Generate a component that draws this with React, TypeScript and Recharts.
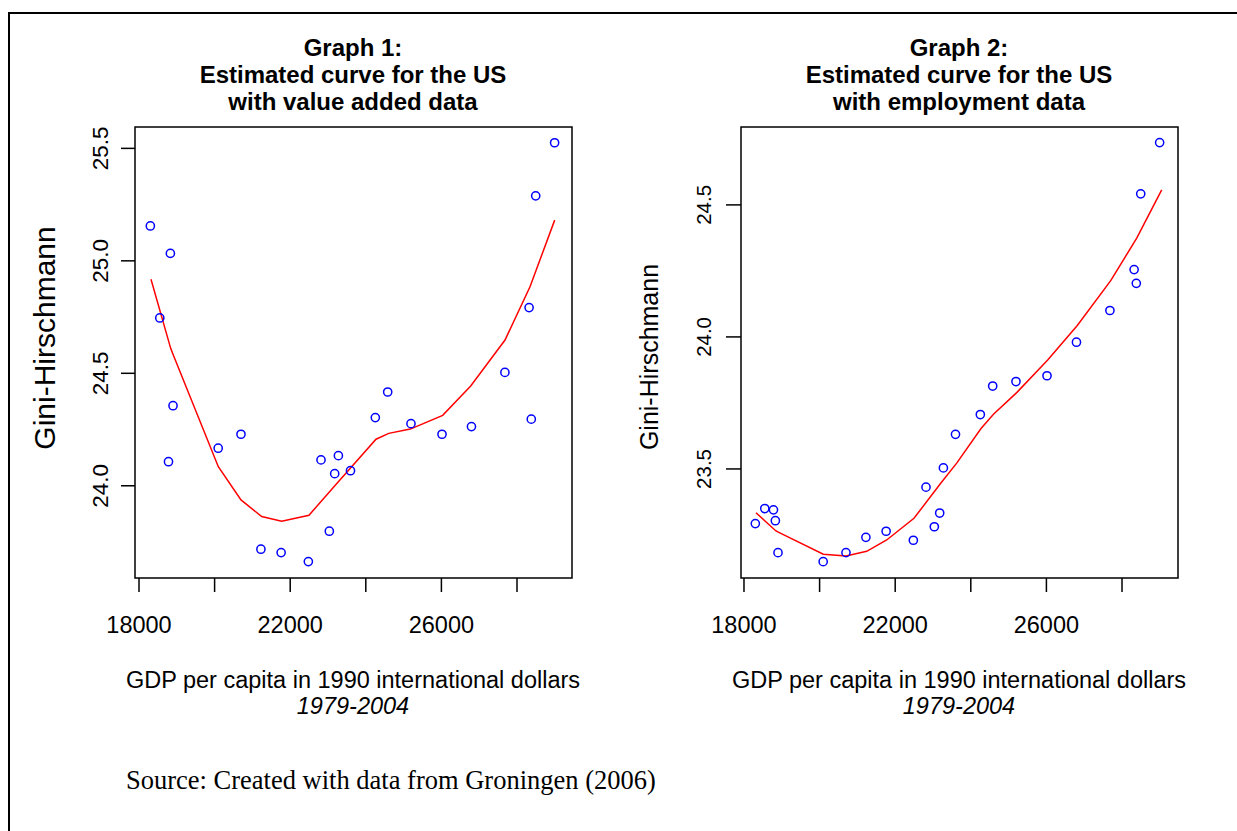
import React from "react";
import { ScatterChart, Scatter, XAxis, YAxis, ReferenceArea } from "recharts";

// GDP per capita (1990 international dollars), shared by both graphs
const gdp = [
  18300, 18550, 18780, 18830, 18900, 20095, 20698, 21225, 21760, 22480, 22815, 23035, 23177,
  23275, 23595, 24252, 24579, 25195, 26016, 26795, 27680, 28320, 28378, 28495, 28995,
];
// Gini-Hirschmann, value added data (graph 1)
const giniValueAdded = [
  25.155, 24.746, 24.107, 25.033, 24.356, 24.167, 24.229, 23.718, 23.703, 23.663, 24.115, 23.798,
  24.054, 24.134, 24.067, 24.303, 24.417, 24.276, 24.229, 24.263, 24.504, 24.792, 24.296, 25.289,
  25.525,
];
// Gini-Hirschmann, employment data (graph 2)
const giniEmployment = [
  23.293, 23.35, 23.345, 23.304, 23.183, 23.149, 23.183, 23.241, 23.264, 23.23, 23.431, 23.281,
  23.333, 23.504, 23.631, 23.706, 23.814, 23.831, 23.853, 23.98, 24.1, 24.255, 24.203, 24.542,
  24.736,
];
// estimated curves
const fitGdpValueAdded = [
  18317, 18838, 18907, 20098, 20698, 21246, 21775, 22497, 23204, 24270, 24606, 25177, 26034,
  26775, 27683, 28344, 28997,
];
const fitValueAdded = [
  24.918, 24.611, 24.581, 24.085, 23.937, 23.863, 23.842, 23.869, 24.005, 24.207, 24.233, 24.252,
  24.313, 24.444, 24.648, 24.885, 25.181,
];
const fitGdpEmployment = [
  18317, 18838, 18907, 20098, 20698, 21246, 21775, 22497, 23204, 23627, 24270, 24606, 25214,
  26034, 26817, 27701, 28389, 29050,
];
const fitEmployment = [
  23.334, 23.266, 23.261, 23.177, 23.17, 23.188, 23.231, 23.313, 23.446, 23.522, 23.653, 23.708,
  23.789, 23.913, 24.043, 24.213, 24.374, 24.557,
];

const xTicks = [18000, 20000, 22000, 24000, 26000, 28000];
const xTickLabels = ["18000", "", "22000", "", "26000", ""];
const yTicksValueAdded = [24.0, 24.5, 25.0, 25.5];
const yTicksEmployment = [23.5, 24.0, 24.5];

const SANS = '"Liberation Sans", Arial, sans-serif';
const SERIF = '"Liberation Serif", "Times New Roman", serif';

const toPoints = (xs: number[], ys: number[]) => xs.map((x, i) => ({ x, y: ys[i] }));

const Circle = (props: any) => (
  <circle cx={props.cx} cy={props.cy} r={4.1} fill="none" stroke="#0000ff" strokeWidth={1.5} />
);
const NoDot = () => <g />;

interface PanelProps {
  plotLeft: number;
  xDomain: [number, number];
  yDomain: [number, number];
  yTicks: number[];
  points: { x: number; y: number }[];
  fit: { x: number; y: number }[];
  yTickFont: number;
  yTickSize: number;
  yTickMargin: number;
}

const PLOT_TOP = 127;
const PLOT_W = 437;
const PLOT_H = 451;
const Y_AXIS_W = 60;
const M = 5;

function Panel({ plotLeft, xDomain, yDomain, yTicks, points, fit, yTickFont, yTickSize, yTickMargin }: PanelProps) {
  const XTick = (p: any) => {
    const idx = xTicks.indexOf(p.payload.value);
    return (
      <text x={p.x} y={p.y} dy="0.72em" textAnchor="middle" fontSize={23.5} fontFamily={SANS} fill="#000">
        {xTickLabels[idx] ?? ""}
      </text>
    );
  };
  const YTick = (p: any) => (
    <text
      x={p.x}
      y={p.y}
      transform={`rotate(-90 ${p.x} ${p.y})`}
      textAnchor="middle"
      fontSize={yTickFont}
      fontFamily={SANS}
      fill="#000"
    >
      {Number(p.payload.value).toFixed(1)}
    </text>
  );
  return (
    <div style={{ position: "absolute", left: plotLeft - Y_AXIS_W - M, top: PLOT_TOP - M }}>
      <ScatterChart
        width={M + Y_AXIS_W + PLOT_W + M}
        height={M + PLOT_H + 70 + M}
        margin={{ top: M, right: M, bottom: M, left: M }}
      >
        <XAxis
          type="number"
          dataKey="x"
          domain={xDomain}
          ticks={xTicks}
          allowDataOverflow
          axisLine={false}
          tickLine={{ stroke: "#000", strokeWidth: 1.5 }}
          tickSize={14}
          tickMargin={24}
          tick={XTick}
          height={70}
          interval={0}
        />
        <YAxis
          type="number"
          dataKey="y"
          domain={yDomain}
          ticks={yTicks}
          allowDataOverflow
          axisLine={false}
          tickLine={{ stroke: "#000", strokeWidth: 1.5 }}
          tickSize={yTickSize}
          tickMargin={yTickMargin}
          tick={YTick}
          width={Y_AXIS_W}
          interval={0}
        />
        <ReferenceArea
          x1={xDomain[0]}
          x2={xDomain[1]}
          y1={yDomain[0]}
          y2={yDomain[1]}
          fill="none"
          stroke="#000"
          strokeWidth={1.5}
          fillOpacity={0}
          ifOverflow="visible"
        />
        <Scatter
          data={fit}
          line={{ stroke: "#ff0000", strokeWidth: 1.5 }}
          lineType="joint"
          shape={NoDot}
          isAnimationActive={false}
        />
        <Scatter data={points} shape={Circle} isAnimationActive={false} />
      </ScatterChart>
    </div>
  );
}

const abs = (style: React.CSSProperties): React.CSSProperties => ({
  position: "absolute",
  whiteSpace: "nowrap",
  ...style,
});

function Titles({ cx, lines }: { cx: number; lines: string[] }) {
  return (
    <div
      style={abs({
        left: cx,
        top: 34,
        transform: "translateX(-50%)",
        textAlign: "center",
        fontFamily: SANS,
        fontWeight: "bold",
        fontSize: 24,
        lineHeight: "27px",
      })}
    >
      {lines.map((l) => (
        <div key={l}>{l}</div>
      ))}
    </div>
  );
}

function XTitle({ cx }: { cx: number }) {
  return (
    <div
      style={abs({
        left: cx,
        top: 667,
        transform: "translateX(-50%)",
        textAlign: "center",
        fontFamily: SANS,
        fontSize: 23.5,
        lineHeight: "26px",
      })}
    >
      <div>GDP per capita in 1990 international dollars</div>
      <div style={{ fontStyle: "italic" }}>1979-2004</div>
    </div>
  );
}

function YTitle({ cx, cy, size }: { cx: number; cy: number; size: number }) {
  return (
    <div
      style={abs({
        left: cx,
        top: cy,
        transform: "translate(-50%, -50%) rotate(-90deg)",
        fontFamily: SANS,
        fontSize: size,
        lineHeight: 1,
      })}
    >
      Gini-Hirschmann
    </div>
  );
}

export default function App() {
  return (
    <div
      style={{
        position: "fixed",
        left: 0,
        top: 0,
        width: 1237,
        height: 831,
        background: "#fff",
        overflow: "hidden",
      }}
    >
      {/* page frame: only the top and left edges show in the crop */}
      <div
        style={{
          position: "absolute",
          left: 8,
          top: 12,
          width: 1400,
          height: 1000,
          borderTop: "2px solid #000",
          borderLeft: "2px solid #000",
        }}
      />
      <Titles cx={353} lines={["Graph 1:", "Estimated curve for the US", "with value added data"]} />
      <Titles cx={959} lines={["Graph 2:", "Estimated curve for the US", "with employment data"]} />

      <Panel
        plotLeft={135}
        xDomain={[17894, 29455]}
        yDomain={[23.59, 25.595]}
        yTicks={yTicksValueAdded}
        points={toPoints(gdp, giniValueAdded)}
        fit={toPoints(fitGdpValueAdded, fitValueAdded)}
        yTickFont={22.5}
        yTickSize={14}
        yTickMargin={13}
      />
      <Panel
        plotLeft={741}
        xDomain={[17921, 29481]}
        yDomain={[23.087, 24.795]}
        yTicks={yTicksEmployment}
        points={toPoints(gdp, giniEmployment)}
        fit={toPoints(fitGdpEmployment, fitEmployment)}
        yTickFont={20.5}
        yTickSize={15}
        yTickMargin={15}
      />

      <YTitle cx={45} cy={338} size={30} />
      <YTitle cx={649} cy={357} size={25} />
      <XTitle cx={353} />
      <XTitle cx={959} />

      <div style={abs({ left: 126, top: 765, fontFamily: SERIF, fontSize: 26.5, lineHeight: "30px" })}>
        Source: Created with data from Groningen (2006)
      </div>
    </div>
  );
}
